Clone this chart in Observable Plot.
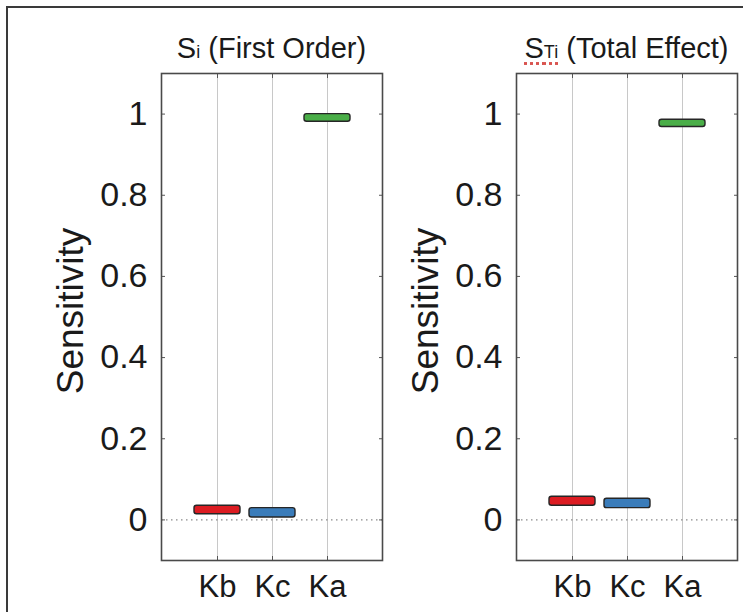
<!DOCTYPE html>
<html>
<head>
<meta charset="utf-8">
<script src="https://cdn.jsdelivr.net/npm/d3@7"></script>
<script src="https://cdn.jsdelivr.net/npm/@observablehq/plot@0.6"></script>
<style>
  html, body { margin: 0; padding: 0; background: #fff; }
  body { width: 743px; height: 612px; overflow: hidden; position: relative; font-family: "Liberation Sans", Arial, sans-serif; }
  .outer { position: absolute; left: 6px; top: 6px; width: 800px; height: 700px; border: 2px solid #3a3a3a; box-sizing: border-box; }
  .title { position: absolute; top: 34px; font-size: 29px; color: #1a1a1a; text-align: center; white-space: nowrap; line-height: 1; }
  .title .sub { font-size: 0.62em; }
  .spell { text-decoration: underline dotted #d9534f; text-underline-offset: 4px; }
  .panel { position: absolute; top: 0; }
</style>
</head>
<body>
<div class="outer"></div>
<div class="title" style="left:161px;width:221px;">S<span class="sub">i</span> (First Order)</div>
<div class="title" style="left:516px;width:221px;"><span class="spell">S<span class="sub">Ti</span></span> (Total Effect)</div>
<div id="left" class="panel" style="left:0px;"></div>
<div id="right" class="panel" style="left:390px;"></div>
<script>
// Parameters on the x axis
const categories = ["Kb", "Kc", "Ka"];
const colors = ["#dc1c22", "#3a7cba", "#4aae48"];

// First-order indices (Si): lower and upper edge of each box
const firstLo = [0.014, 0.006, 0.981];
const firstHi = [0.035, 0.029, 1.000];

// Total-effect indices (STi): lower and upper edge of each box
const totalLo = [0.035, 0.029, 0.968];
const totalHi = [0.057, 0.052, 0.986];

const yTicks = [0, 0.2, 0.4, 0.6, 0.8, 1];
const yLabel = "Sensitivity";

const font = "'Liberation Sans', Arial, sans-serif";

function panel(lo, hi, {width, marginLeft, marginRight}) {
  const rows = categories.map((c, i) => ({param: c, lo: lo[i], hi: hi[i], color: colors[i]}));
  return Plot.plot({
    width,
    height: 612,
    marginTop: 73,
    marginBottom: 52,
    marginLeft,
    marginRight,
    style: {fontFamily: font, color: "#1a1a1a", background: "transparent"},
    x: {type: "band", domain: categories, paddingInner: 0.17, paddingOuter: 0.585},
    y: {domain: [-0.1, 1.1]},
    marks: [
      Plot.gridX(categories, {stroke: "#c8c8c8", strokeOpacity: 1, strokeWidth: 1}),
      Plot.ruleY([0], {stroke: "#8a8a8a", strokeDasharray: "1.5,3.5", strokeWidth: 1.2}),
      Plot.barY(rows, {
        x: "param", y1: "lo", y2: "hi", fill: "color",
        stroke: "#262626", strokeWidth: 1.4, rx: 2.5
      }),
      Plot.axisY(yTicks, {anchor: "left", tickSize: -4, tickPadding: 18, fontSize: 34,
        stroke: "#555", tickFormat: d => String(d), label: null}),
      Plot.axisY(yTicks, {anchor: "right", tickSize: -4, tickFormat: () => "", stroke: "#555", label: null}),
      Plot.axisX(categories, {anchor: "bottom", tickSize: -4, tickPadding: 18, fontSize: 31,
        stroke: "#555", label: null}),
      Plot.axisX(categories, {anchor: "top", tickSize: -4, tickFormat: () => "", stroke: "#555", label: null}),
      Plot.text([yLabel], {frameAnchor: "left", textAnchor: "middle", rotate: -90, dx: -90, dy: -6,
        fontSize: 37, fill: "#1a1a1a"}),
      Plot.frame({stroke: "#4a4a4a", strokeWidth: 1.6})
    ]
  });
}

document.getElementById("left").append(
  panel(firstLo, firstHi, {width: 390, marginLeft: 161, marginRight: 8})
);
document.getElementById("right").append(
  panel(totalLo, totalHi, {width: 353, marginLeft: 126, marginRight: 6})
);
</script>
</body>
</html>
